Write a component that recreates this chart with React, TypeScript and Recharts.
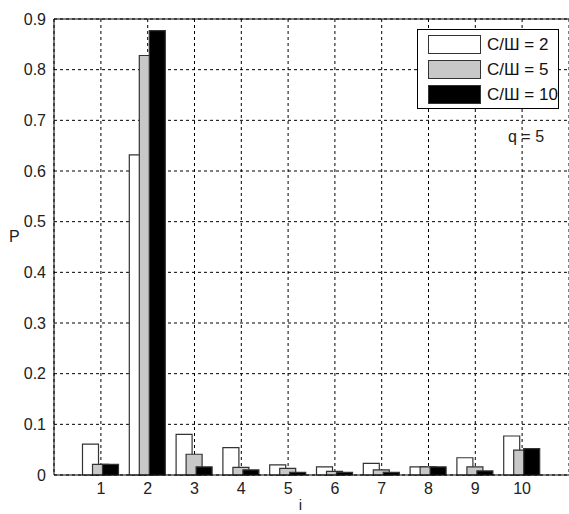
import {
  BarChart,
  Bar,
  XAxis,
  YAxis,
  CartesianGrid,
  ReferenceLine,
} from "recharts";

const categories = [1, 2, 3, 4, 5, 6, 7, 8, 9, 10];
const seriesNames = ["С/Ш = 2", "С/Ш = 5", "С/Ш = 10"];
const seriesKeys = ["s2", "s5", "s10"];
const seriesColors = ["#ffffff", "#c8c8c8", "#000000"];
const snr2 = [0.061, 0.632, 0.08, 0.054, 0.02, 0.016, 0.023, 0.016, 0.034, 0.077];
const snr5 = [0.021, 0.828, 0.041, 0.015, 0.013, 0.007, 0.01, 0.016, 0.016, 0.049];
const snr10 = [0.021, 0.877, 0.016, 0.01, 0.005, 0.005, 0.005, 0.016, 0.008, 0.052];
const yTicks = [0, 0.1, 0.2, 0.3, 0.4, 0.5, 0.6, 0.7, 0.8, 0.9];

const data = categories.map((i, k) => ({
  i,
  s2: snr2[k],
  s5: snr5[k],
  s10: snr10[k],
}));

const FONT = "'Liberation Sans', Arial, sans-serif";

// legend drawn as plain html, Recharts' Legend keeps eating plot width
const LegendBox = () => (
  <div
    style={{
      position: "absolute",
      left: 417,
      top: 29,
      border: "1px solid #000",
      background: "#fff",
      width: 140,
      height: 76,
      boxSizing: "content-box",
      fontFamily: FONT,
      fontSize: 17,
      color: "#111",
      paddingTop: 2,
    }}
  >
    {seriesNames.map((name, k) => (
      <div key={name} style={{ display: "flex", alignItems: "center", height: 25 }}>
        <div
          style={{
            width: 51,
            height: 17,
            marginLeft: 10,
            marginRight: 6,
            border: "1px solid #333",
            background: seriesColors[k],
          }}
        />
        <span>{name}</span>
      </div>
    ))}
  </div>
);

export default function App() {
  return (
    <div style={{ position: "absolute", left: 0, top: 0, width: 569, height: 514, background: "#fff" }}>
      <BarChart
        width={569}
        height={514}
        data={data}
        margin={{ top: 19, right: 0, left: 0, bottom: 0 }}
        barSize={16}
        barGap={-6}
      >
        <CartesianGrid stroke="#000" strokeDasharray="3 3" />
        <XAxis
          dataKey="i"
          type="category"
          padding={{ left: 23.5, right: 23.5 }}
          height={39}
          tickLine={false}
          axisLine={{ stroke: "#000" }}
          tick={{ fill: "#222", fontSize: 16, fontFamily: FONT }}
          label={{ value: "i", position: "insideBottom", offset: 4, dx: -11, fill: "#222", fontSize: 15, fontFamily: FONT }}
        />
        <YAxis
          type="number"
          domain={[0, 0.9]}
          ticks={yTicks}
          width={54}
          tickLine={false}
          axisLine={{ stroke: "#000" }}
          tick={{ fill: "#222", fontSize: 16, fontFamily: FONT }}
          label={{ value: "P", position: "insideLeft", offset: 9, dy: -11, fill: "#222", fontSize: 16, fontFamily: FONT }}
        />
        <ReferenceLine y={0.9} stroke="#000" />
        {seriesKeys.map((key, k) => (
          <Bar
            key={key}
            dataKey={key}
            name={seriesNames[k]}
            fill={seriesColors[k]}
            stroke="#333"
            strokeWidth={1.2}
            isAnimationActive={false}
          />
        ))}
      </BarChart>
      <LegendBox />
      <div
        style={{
          position: "absolute",
          left: 508,
          top: 128,
          fontFamily: FONT,
          fontSize: 16,
          color: "#222",
          lineHeight: "18px",
        }}
      >
        q = 5
      </div>
    </div>
  );
}
